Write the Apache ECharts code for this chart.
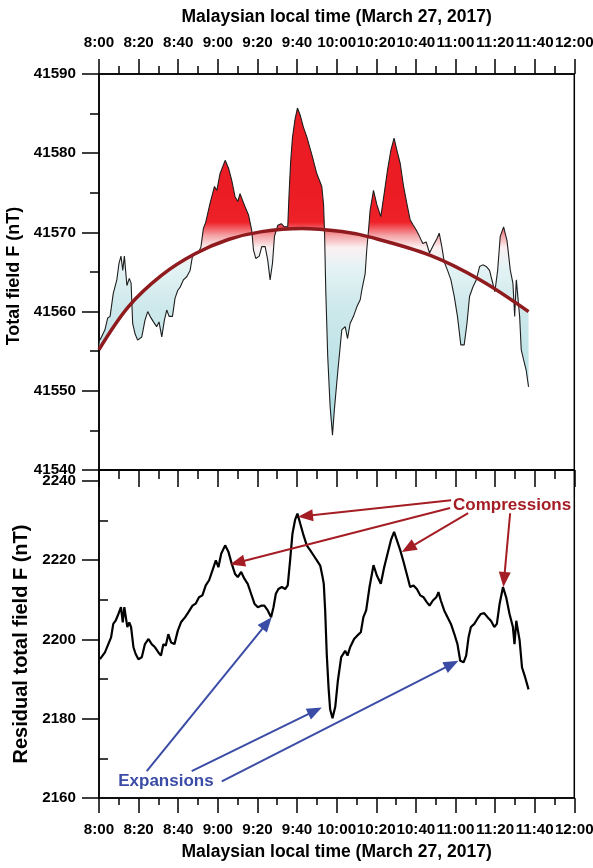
<!DOCTYPE html>
<html><head><meta charset="utf-8">
<script src="https://cdn.jsdelivr.net/npm/echarts@6/dist/echarts.min.js"></script>
<style>html,body{margin:0;padding:0;background:#fff}#c{width:593px;height:868px}</style>
</head><body><div id="c"></div>
<script>
// ---------- data (minutes after 8:00 local time) ----------
const timeLabels = ['8:00','8:20','8:40','9:00','9:20','9:40','10:00','10:20','10:40','11:00','11:20','11:40','12:00'];

const tF = [0.5,3.0,4.4,5.6,7.2,9.0,10.1,11.1,12.0,12.8,13.5,14.1,15.3,16.2,17.0,18.2,19.5,21.6,23.2,24.6,25.8,27.5,29.1,30.3,31.7,33.0,34.2,35.4,37.1,38.4,39.8,41.0,42.6,44.3,46.0,47.2,48.5,50.2,51.5,52.7,53.9,56.1,58.3,59.5,61.1,63.7,65.4,67.0,68.7,70.1,71.2,72.4,73.8,75.5,77.1,78.0,79.2,80.9,82.2,83.9,85.2,86.4,87.6,88.6,90.3,92.0,93.6,95.3,96.0,96.8,97.7,99.0,100.2,101.6,103.2,104.9,107.5,110.0,112.5,113.4,113.9,114.5,115.5,116.7,117.9,118.8,120.6,122.6,124.3,125.5,126.8,128.5,130.2,131.9,132.7,134.4,135.2,136.1,136.9,138.6,140.3,142.3,144.0,145.7,147.4,149.0,150.4,152.1,153.8,155.4,157.1,158.5,160.2,161.8,163.5,165.2,166.9,168.9,170.6,171.8,173.1,174.3,176.0,177.7,179.4,181.0,182.7,184.4,185.8,187.1,188.8,190.5,192.2,193.8,195.5,197.2,198.6,199.9,201.3,202.6,204.3,206.0,207.7,209.0,209.9,210.7,211.5,212.4,213.2,214.4,215.7,216.9];
const totalF = [41556.4,41557.7,41559.2,41559.4,41562.3,41564.0,41566.1,41567.0,41565.2,41567.0,41567.0,41563.3,41564.2,41563.6,41558.5,41557.2,41556.4,41556.8,41558.9,41560.0,41559.4,41558.7,41558.1,41558.7,41556.8,41558.9,41560.2,41559.4,41559.4,41561.7,41562.7,41563.1,41564.0,41564.4,41565.2,41567.0,41567.2,41567.4,41568.2,41570.5,41571.3,41573.7,41575.8,41575.3,41577.4,41579.1,41578.1,41576.6,41574.5,41573.9,41574.9,41574.1,41573.2,41572.2,41570.3,41567.8,41566.7,41567.0,41568.2,41568.2,41566.5,41564.0,41566.1,41569.5,41570.9,41571.1,41570.7,41570.7,41575.0,41579.0,41582.0,41584.3,41585.7,41584.8,41583.3,41582.1,41579.8,41577.4,41575.8,41573.5,41569.9,41562.7,41554.3,41548.0,41544.4,41547.5,41552.5,41557.7,41558.1,41556.6,41558.5,41559.4,41560.6,41561.5,41562.7,41564.8,41567.8,41570.3,41572.8,41575.3,41573.5,41572.0,41574.9,41577.9,41580.4,41581.9,41580.4,41578.7,41575.8,41573.7,41571.6,41571.0,41570.3,41569.5,41568.6,41568.8,41567.4,41568.4,41569.2,41569.9,41568.2,41566.3,41565.2,41564.0,41561.9,41559.4,41555.8,41555.8,41558.5,41561.9,41563.1,41564.0,41565.7,41565.9,41565.7,41565.2,41563.8,41562.5,41565.2,41569.5,41570.7,41569.0,41565.2,41563.6,41559.4,41564.0,41564.2,41559.4,41555.2,41553.9,41552.6,41550.5];

const tFit = [0,14.8,31.7,48.5,65.3,82.2,102.4,122.6,136.9,167.3,192.5,216.9];
const fitF = [41555.2,41560.6,41564.6,41567.3,41569.1,41570.1,41570.5,41570.1,41569.4,41567.1,41564.0,41560.0];

const tR = [0.5,3.0,4.7,6.1,7.2,8.4,9.8,11.1,12.0,12.8,13.5,14.3,15.3,16.2,17.4,18.5,19.9,21.6,23.2,25.0,26.6,28.3,30.0,31.3,32.5,33.7,35.0,36.4,38.1,39.8,41.4,43.5,45.1,47.2,48.8,50.5,52.2,53.9,55.6,57.3,59.0,60.3,61.7,63.7,65.4,67.0,68.7,70.1,71.8,73.4,75.1,76.8,78.5,80.2,81.9,83.5,85.2,86.9,88.1,89.3,90.6,92.3,94.0,95.3,96.5,97.7,99.0,100.2,101.6,103.3,104.9,106.6,108.3,110.0,111.7,112.9,113.5,114.2,115.0,115.9,116.7,117.9,119.3,120.6,122.3,124.3,125.5,126.8,128.8,130.5,132.2,133.5,134.9,136.6,138.6,140.3,142.3,144.0,145.7,147.4,149.0,150.4,152.1,153.8,155.8,157.1,158.8,160.5,162.2,163.9,165.5,166.9,168.6,170.3,171.4,172.6,174.3,176.0,177.7,179.4,181.0,182.4,184.1,185.4,186.6,187.8,189.5,191.1,192.8,194.5,196.2,197.9,199.6,200.9,202.3,204.0,205.6,207.3,209.0,209.8,210.7,211.5,212.4,213.6,215.2,216.9];
const residualF = [2195.0,2196.7,2198.8,2200.5,2203.9,2204.7,2206.4,2208.1,2204.3,2208.1,2208.1,2203.1,2204.3,2203.1,2198.0,2196.3,2195.0,2195.5,2198.8,2200.1,2198.8,2198.0,2196.7,2195.9,2198.8,2198.4,2201.3,2199.2,2198.8,2202.2,2204.3,2205.6,2206.8,2208.5,2209.0,2210.6,2211.1,2213.6,2214.9,2217.4,2219.9,2218.2,2221.6,2223.7,2222.0,2219.1,2216.5,2215.7,2217.0,2215.3,2214.0,2211.5,2209.0,2208.1,2208.5,2208.5,2207.3,2205.6,2208.1,2211.5,2212.7,2213.2,2212.7,2213.6,2219.9,2226.7,2230.1,2231.7,2229.2,2226.2,2223.7,2222.5,2221.2,2219.9,2218.6,2215.7,2214.0,2207.3,2196.3,2187.9,2182.4,2180.1,2183.0,2189.5,2195.5,2197.1,2195.9,2198.0,2200.1,2201.0,2201.8,2205.6,2207.3,2213.2,2218.7,2216.1,2214.0,2218.2,2221.6,2225.0,2227.1,2225.0,2222.5,2219.5,2215.7,2213.2,2213.6,2212.7,2211.1,2210.6,2209.4,2208.5,2209.8,2210.6,2211.9,2209.8,2207.3,2205.6,2203.9,2201.4,2198.8,2194.6,2194.2,2195.9,2200.5,2203.1,2203.9,2205.2,2206.4,2206.6,2205.6,2204.7,2203.1,2203.9,2209.0,2213.2,2210.6,2206.4,2203.1,2198.8,2204.7,2204.3,2199.7,2192.9,2190.4,2187.4];

const yTicksBottom = [2160,2180,2200,2220,2240];
const yMinorBottom = [2170,2190,2210,2230];

// annotations in data coordinates: [tStart, vStart, tTip, vTip]
const compressionArrows = [[177.8,2235.1,100.5,2230.9],[177.3,2233.1,66.2,2218.9],[186.4,2231.8,152.9,2222.0],[207.6,2231.8,204.2,2213.2]];
const expansionArrows = [[24.1,2166.8,87.2,2205.6],[46.8,2166.8,112.5,2182.8],[62.0,2164.2,181.5,2194.6]];
const compressionLabel = [208.6, 2233.9];
const expansionLabel = [33.8, 2164.2];

// ---------- styles ----------
const FONT = 'Liberation Sans, Arial, sans-serif';
const fillStops = [[41575,'#ec1c24'],[41571.3,'#ee2128'],[41569.6,'#f4a3a6'],[41568.1,'#fbf0f1'],[41565.5,'#e4f3f5'],[41561,'#cfe9ec'],[41545,'#aadce2']];
const RED = '#a51d24', BLUE = '#3b4ca6';

const pairs = (xs, ys) => xs.map((x, i) => [x, ys[i]]);
const timeFmt = v => (v % 20 === 0 ? timeLabels[v / 20] : '');
const plainFmt = v => String(v);

const lbl = {fontFamily: FONT, fontWeight: 'bold', fontSize: 15.2, color: '#000'};
const axLine = {show: true, lineStyle: {color: '#000', width: 1.5}};
const tk = {width: 1.5, color: '#000'};

const chart = echarts.init(document.getElementById('c'), null, {renderer: 'canvas'});

const option = {
  animation: false,
  backgroundColor: '#fff',
  grid: [
    {left: 99, right: 18.7, top: 74, height: 396, outerBoundsMode: 'none', containLabel: false,
     show: true, borderColor: '#000', borderWidth: 1.5, backgroundColor: 'transparent'},
    {left: 99, right: 18.7, top: 470, height: 328, outerBoundsMode: 'none', containLabel: false,
     show: true, borderColor: '#000', borderWidth: 1.5, backgroundColor: 'transparent'}
  ],
  xAxis: [
    {gridIndex: 0, type: 'value', position: 'top', min: 0, max: 240, interval: 20,
     axisLine: axLine, axisTick: {show: true, length: 15, lineStyle: tk},
     minorTick: {show: true, splitNumber: 2, length: 8, lineStyle: tk},
     splitLine: {show: false},
     axisLabel: Object.assign({margin: 24, formatter: timeFmt, hideOverlap: false, showMinLabel: true, showMaxLabel: true}, lbl),
     name: 'Malaysian local time (March 27, 2017)', nameLocation: 'middle', nameGap: 48,
     nameTextStyle: {fontFamily: FONT, fontWeight: 'bold', fontSize: 17.5, color: '#000'}},
    {gridIndex: 1, type: 'value', position: 'top', min: 0, max: 240, interval: 20,
     axisLine: axLine, axisTick: {show: true, inside: true, length: 17, lineStyle: tk},
     minorTick: {show: true, splitNumber: 2, length: 9, lineStyle: tk},
     splitLine: {show: false}, axisLabel: {show: false}},
    {gridIndex: 1, type: 'value', position: 'bottom', min: 0, max: 240, interval: 20,
     axisLine: axLine, axisTick: {show: true, length: 15, lineStyle: tk},
     minorTick: {show: true, splitNumber: 2, length: 7, lineStyle: tk},
     splitLine: {show: false},
     axisLabel: Object.assign({margin: 24, formatter: timeFmt, hideOverlap: false, showMinLabel: true, showMaxLabel: true}, lbl),
     name: 'Malaysian local time (March 27, 2017)', nameLocation: 'middle', nameGap: 45,
     nameTextStyle: {fontFamily: FONT, fontWeight: 'bold', fontSize: 17.5, color: '#000'}}
  ],
  yAxis: [
    {gridIndex: 0, type: 'value', min: 41540, max: 41590, interval: 10,
     axisLine: axLine, axisTick: {show: true, length: 17, lineStyle: tk},
     minorTick: {show: true, splitNumber: 2, length: 9, lineStyle: tk},
     splitLine: {show: false},
     axisLabel: Object.assign({margin: 23, formatter: plainFmt, showMinLabel: true, showMaxLabel: true}, lbl),
     name: 'Total field F (nT)', nameLocation: 'middle', nameGap: 69, nameRotate: 90,
     nameTextStyle: {fontFamily: FONT, fontWeight: 'bold', fontSize: 18, color: '#000', padding: [0, 8, 0, 0]}},
    {gridIndex: 1, type: 'value', min: 2160, max: 2242.7,
     axisLine: axLine, axisTick: {show: true, length: 17, customValues: yTicksBottom, lineStyle: tk},
     splitLine: {show: false},
     axisLabel: Object.assign({margin: 23, customValues: yTicksBottom, formatter: plainFmt}, lbl),
     name: 'Residual total field F (nT)', nameLocation: 'middle', nameGap: 61, nameRotate: 90,
     nameTextStyle: {fontFamily: FONT, fontWeight: 'bold', fontSize: 20, color: '#000', padding: [0, 20, 0, 0]}},
    {gridIndex: 1, type: 'value', min: 2160, max: 2242.7,
     axisLine: {show: false}, axisTick: {show: true, length: 9, customValues: yMinorBottom, lineStyle: tk},
     splitLine: {show: false}, axisLabel: {show: false}}
  ],
  series: [
    {type: 'custom', name: 'fill', xAxisIndex: 0, yAxisIndex: 0, clip: true, silent: true, z: 1,
     data: [[0, 41560]],
     renderItem: function (params, api) {
       const pts = [];
       for (let i = 0; i < tF.length; i++) pts.push(api.coord([tF[i], totalF[i]]));
       for (let i = tFit.length - 1; i >= 0; i--) pts.push(api.coord([tFit[i], fitF[i]]));
       const yA = api.coord([0, fillStops[0][0]])[1];
       const yB = api.coord([0, fillStops[fillStops.length - 1][0]])[1];
       const colorStops = fillStops.map(s => ({offset: (api.coord([0, s[0]])[1] - yA) / (yB - yA), color: s[1]}));
       return {type: 'polygon', shape: {points: pts},
               style: {fill: {type: 'linear', x: 0, y: yA, x2: 0, y2: yB, global: true, colorStops: colorStops}, stroke: null}};
     }},
    {type: 'line', name: 'Total field', xAxisIndex: 0, yAxisIndex: 0, data: pairs(tF, totalF),
     showSymbol: false, silent: true, z: 3, lineStyle: {color: '#1e1e1e', width: 1.1}},
    {type: 'line', name: 'Fit', xAxisIndex: 0, yAxisIndex: 0, data: pairs(tFit, fitF), smooth: 0.35,
     showSymbol: false, silent: true, z: 4, lineStyle: {color: '#8f1b1f', width: 3.5}},
    {type: 'line', name: 'Residual', xAxisIndex: 2, yAxisIndex: 1, data: pairs(tR, residualF),
     showSymbol: false, silent: true, z: 3, lineStyle: {color: '#000', width: 2.2}}
  ]
};
chart.setOption(option);

// ---------- annotations (positions converted through the residual series' axes) ----------
function toPx(t, v) { return chart.convertToPixel({seriesIndex: 3}, [t, v]); }
function arrow(a, color) {
  const p1 = toPx(a[0], a[1]), p2 = toPx(a[2], a[3]);
  const dx = p2[0] - p1[0], dy = p2[1] - p1[1], L = Math.hypot(dx, dy), ux = dx / L, uy = dy / L;
  const hl = 15, hw = 6;
  const bx = p2[0] - ux * hl, by = p2[1] - uy * hl;
  return [
    {type: 'line', silent: true, z: 10, shape: {x1: p1[0], y1: p1[1], x2: bx + ux, y2: by + uy}, style: {stroke: color, lineWidth: 2}},
    {type: 'polygon', silent: true, z: 10, shape: {points: [[p2[0], p2[1]], [bx - uy * hw, by + ux * hw], [bx + uy * hw, by - ux * hw]]}, style: {fill: color}}
  ];
}
const els = [];
compressionArrows.forEach(a => els.push(...arrow(a, RED)));
expansionArrows.forEach(a => els.push(...arrow(a, BLUE)));
const pc = toPx(compressionLabel[0], compressionLabel[1]);
const pe = toPx(expansionLabel[0], expansionLabel[1]);
els.push({type: 'text', silent: true, z: 11, x: pc[0], y: pc[1],
  style: {text: 'Compressions', fill: RED, fontFamily: FONT, fontWeight: 'bold', fontSize: 17, align: 'center', verticalAlign: 'middle'}});
els.push({type: 'text', silent: true, z: 11, x: pe[0], y: pe[1],
  style: {text: 'Expansions', fill: BLUE, fontFamily: FONT, fontWeight: 'bold', fontSize: 17, align: 'center', verticalAlign: 'middle'}});
chart.setOption({graphic: {elements: els}});
</script>
</body></html>
